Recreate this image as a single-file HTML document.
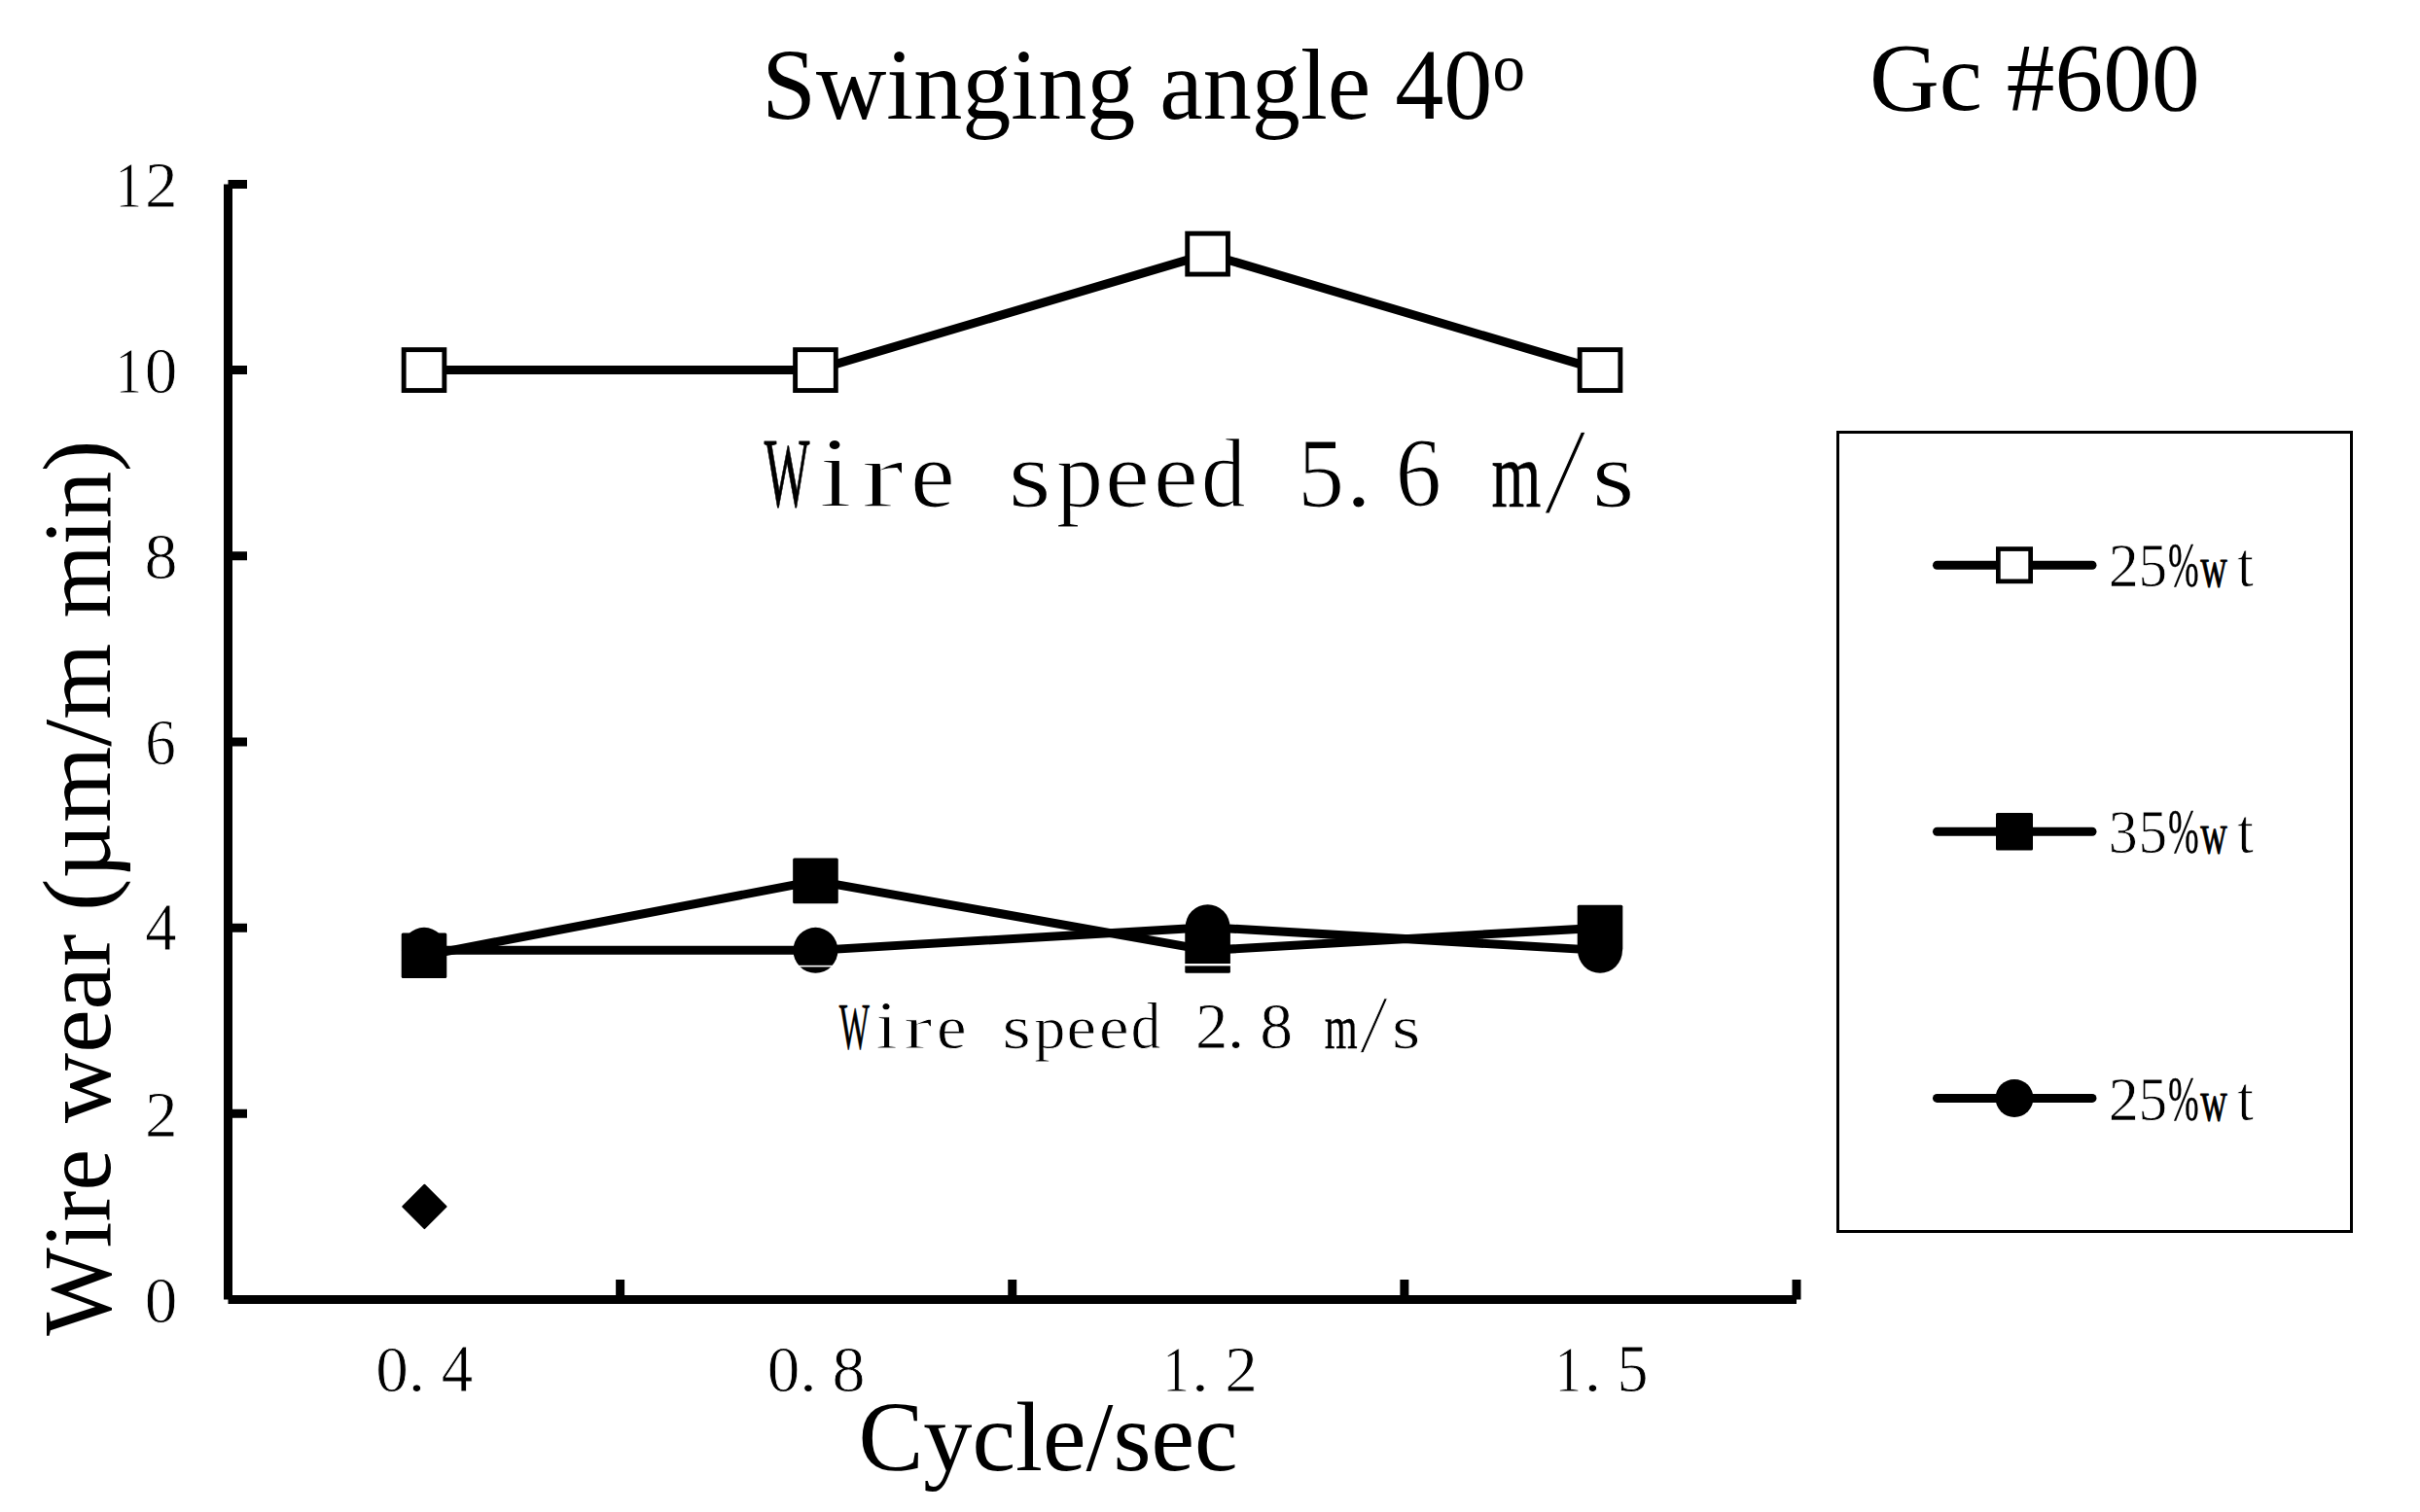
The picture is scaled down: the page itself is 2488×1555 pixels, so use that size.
<!DOCTYPE html>
<html lang="en">
<head>
<meta charset="utf-8">
<title>Wire wear vs. swinging cycle</title>
<style>
html,body{margin:0;padding:0;background:#fff;}
body{width:2488px;height:1555px;overflow:hidden;}
svg{display:block;}
text{font-family:"Liberation Serif","Times New Roman",serif;fill:#000;}
.er{stroke:#fff;vector-effect:non-scaling-stroke;}
.ns{stroke:#000;vector-effect:non-scaling-stroke;stroke-linejoin:round;}
.ax{stroke:#000;stroke-width:9;fill:none;stroke-linecap:butt;}
.ln{stroke:#000;stroke-width:9;fill:none;stroke-linejoin:round;}
</style>
</head>
<body>
<svg width="2488" height="1555" viewBox="0 0 2488 1555">
<rect x="0" y="0" width="2488" height="1555" fill="#fff"/>
<!-- titles -->
<text id="title" transform="translate(783.3 122) scale(.9725 1)" font-size="103">Swinging angle 40<tspan font-size="69" dy="-29">o</tspan></text>
<text id="gc" transform="translate(1922 112.5) scale(.9945 1)" font-size="100">Gc #600</text>
<text id="xl" transform="translate(882.4 1511.8) scale(.986 1)" font-size="101.8">Cycle/sec</text>
<g id="yl">
<text transform="translate(113.2 1373.7) rotate(-90) scale(0.9550 1)" x="-0.1" font-size="100.5" style="font-kerning:none">Wire</text>
<text transform="translate(113.2 1155) rotate(-90) scale(0.9960 1)" x="-0.1" font-size="100.5" style="font-kerning:none">wear</text>
<text transform="translate(113.2 932.7) rotate(-90) scale(0.9994 1)" x="-4.42" font-size="100.5" style="font-kerning:none">(µm/m</text>
<text transform="translate(113.2 633.5) rotate(-90) scale(0.9635 1)" x="-2.11" font-size="100.5" style="font-kerning:none">min)</text>
</g>
<!-- axes -->
<path class="ax" d="M234.5 189.42 V1336.5"/>
<path class="ax" d="M234.5 1336.5 H1847"/>
<path class="ax" d="M234.5 1145.32 h19.5M234.5 954.14 h19.5M234.5 762.96 h19.5M234.5 571.78 h19.5M234.5 380.6 h19.5M234.5 189.42 h19.5"/>
<path class="ax" d="M637.62 1336.5 v-20.5M1040.75 1336.5 v-20.5M1443.88 1336.5 v-20.5M1847 1336.5 v-20.5"/>
<!-- y tick labels -->
<g font-size="67" aria-label="0"><text transform="translate(165.5 1359.8) scale(1.003 1.015)" x="-16.75" class="er" stroke-width="0.8">0</text></g>
<g font-size="67" aria-label="2"><text transform="translate(165.5 1168.62) scale(1.003 1.019)" x="-16.37" class="er" stroke-width="0.8">2</text></g>
<g font-size="67" aria-label="4"><text transform="translate(165.5 977.44) scale(0.968 1.026)" x="-16.88" class="er" stroke-width="0.8">4</text></g>
<g font-size="67" aria-label="6"><text transform="translate(165.5 786.26) scale(0.943 1.019)" x="-17.19" class="er" stroke-width="0.8">6</text></g>
<g font-size="67" aria-label="8"><text transform="translate(165.5 595.08) scale(1.015 1.015)" x="-16.75" class="er" stroke-width="0.8">8</text></g>
<g font-size="67" aria-label="10"><text transform="translate(133 403.9) scale(0.824 1.022)" x="-17.68" class="er" stroke-width="0.8">1</text><text transform="translate(165.5 403.9) scale(1.003 1.015)" x="-16.75" class="er" stroke-width="0.8">0</text></g>
<g font-size="67" aria-label="12"><text transform="translate(133 212.72) scale(0.824 1.022)" x="-17.68" class="er" stroke-width="0.8">1</text><text transform="translate(165.5 212.72) scale(1.003 1.019)" x="-16.37" class="er" stroke-width="0.8">2</text></g>
<!-- x tick labels -->
<g font-size="67" aria-label="0.4"><text transform="translate(403.1 1431) scale(1.003 1.015)" x="-16.75" class="er" stroke-width="0.8">0</text><text transform="translate(428.43 1431) scale(1.066 0.962)" x="-8.38" class="er" stroke-width="0.8">.</text><text transform="translate(470.1 1431) scale(0.968 1.026)" x="-16.88" class="er" stroke-width="0.8">4</text></g>
<g font-size="67" aria-label="0.8"><text transform="translate(805.56 1431) scale(1.003 1.015)" x="-16.75" class="er" stroke-width="0.8">0</text><text transform="translate(830.89 1431) scale(1.066 0.962)" x="-8.38" class="er" stroke-width="0.8">.</text><text transform="translate(872.56 1431) scale(1.015 1.015)" x="-16.75" class="er" stroke-width="0.8">8</text></g>
<g font-size="67" aria-label="1.2"><text transform="translate(1209.7 1431) scale(0.824 1.022)" x="-17.68" class="er" stroke-width="0.8">1</text><text transform="translate(1234.03 1431) scale(1.066 0.962)" x="-8.38" class="er" stroke-width="0.8">.</text><text transform="translate(1275.7 1431) scale(1.003 1.019)" x="-16.37" class="er" stroke-width="0.8">2</text></g>
<g font-size="67" aria-label="1.5"><text transform="translate(1613.11 1431) scale(0.824 1.022)" x="-17.68" class="er" stroke-width="0.8">1</text><text transform="translate(1637.43 1431) scale(1.066 0.962)" x="-8.38" class="er" stroke-width="0.8">.</text><text transform="translate(1679.1 1431) scale(0.956 1.026)" x="-17.39" class="er" stroke-width="0.8">5</text></g>
<!-- series -->
<polyline class="ln" points="436,380.6 838.46,380.6 1241.6,261.11 1645,380.6"/>
<polyline class="ln" points="436,977.37 838.46,977.37 1241.6,953.66 1645,977.37"/>
<polyline class="ln" points="436,982.82 838.46,905.87 1241.6,977.37 1645,954.14"/>
<path d="M436.4 1218.71 l22.2 22.2 l-22.2 22.2 l-22.2 -22.2z" fill="#000" stroke="#000" stroke-width="2" stroke-linejoin="round"/>
<ellipse cx="436" cy="977.37" rx="23" ry="23.5" fill="#000"/>
<ellipse cx="838.46" cy="977.37" rx="23" ry="23.5" fill="#000"/>
<ellipse cx="1241.6" cy="953.66" rx="23" ry="23.5" fill="#000"/>
<ellipse cx="1645" cy="977.37" rx="23" ry="23.5" fill="#000"/>
<rect x="412.7" y="959.52" width="46.6" height="46.6" rx="1.5" fill="#000"/>
<rect x="815.16" y="882.57" width="46.6" height="46.6" rx="1.5" fill="#000"/>
<rect x="1218.3" y="954.07" width="46.6" height="46.6" rx="1.5" fill="#000"/>
<rect x="1621.7" y="930.84" width="46.6" height="46.6" rx="1.5" fill="#000"/>
<rect x="415.15" y="359.65" width="41.7" height="41.9" fill="#fff" stroke="#000" stroke-width="4.9" stroke-linejoin="miter"/>
<rect x="817.61" y="359.65" width="41.7" height="41.9" fill="#fff" stroke="#000" stroke-width="4.9" stroke-linejoin="miter"/>
<rect x="1220.75" y="240.16" width="41.7" height="41.9" fill="#fff" stroke="#000" stroke-width="4.9" stroke-linejoin="miter"/>
<rect x="1624.15" y="359.65" width="41.7" height="41.9" fill="#fff" stroke="#000" stroke-width="4.9" stroke-linejoin="miter"/>
<rect x="818" y="992.8" width="41" height="1.6" fill="#fff"/>
<rect x="1218" y="991" width="47" height="2.4" fill="#fff"/>
<!-- annotations -->
<g font-size="100" aria-label="Wire speed 5.6 m/s"><text transform="translate(809 521.2) scale(0.494 1.026)" x="-47.14" class="ns" stroke-width="0.7">W</text><text transform="translate(859 521.2) scale(1.220 1.035)" x="-13.99" class="er" stroke-width="2">i</text><text transform="translate(908 521.2) scale(1.315 0.964)" x="-17.21" class="er" stroke-width="2">r</text><text transform="translate(959 521.2) scale(1.032 0.964)" x="-22.41" class="er" stroke-width="1.2">e</text> <text transform="translate(1059 521.2) scale(1.125 0.964)" x="-19.7" class="er" stroke-width="1.2">s</text><text transform="translate(1109 521.2) scale(0.962 0.964)" x="-23.85" class="er" stroke-width="1.2">p</text><text transform="translate(1159 521.2) scale(1.032 0.964)" x="-22.41" class="er" stroke-width="1.2">e</text><text transform="translate(1209 521.2) scale(1.032 0.964)" x="-22.41" class="er" stroke-width="1.2">e</text><text transform="translate(1259 521.2) scale(0.914 1.009)" x="-26.2" class="er" stroke-width="1.2">d</text> <text transform="translate(1359 521.2) scale(0.956 1.026)" x="-25.95" class="er" stroke-width="1.2">5</text><text transform="translate(1396.8 521.2) scale(1.066 0.962)" x="-12.5" class="er" stroke-width="1.2">.</text><text transform="translate(1459 521.2) scale(0.943 1.019)" x="-25.66" class="er" stroke-width="1.2">6</text> <text transform="translate(1559 521.2) scale(0.654 0.964)" x="-39.16" class="ns" stroke-width="0.4">m</text><text transform="matrix(1.000 0 -0.214 1.257 1609 527.27)" x="-20.83" class="er" stroke-width="1.2">/</text><text transform="translate(1659 521.2) scale(1.125 0.964)" x="-19.7" class="er" stroke-width="1.2">s</text></g>
<g font-size="66.74" aria-label="Wire speed 2.8 m/s"><text transform="translate(878.38 1078) scale(0.494 1.026)" x="-31.46" class="ns" stroke-width="0.47">W</text><text transform="translate(911.75 1078) scale(1.220 1.035)" x="-9.34" class="er" stroke-width="1.33">i</text><text transform="translate(944.46 1078) scale(1.315 0.964)" x="-11.49" class="er" stroke-width="1.33">r</text><text transform="translate(978.5 1078) scale(1.032 0.964)" x="-14.96" class="er" stroke-width="0.8">e</text> <text transform="translate(1045.24 1078) scale(1.125 0.964)" x="-13.15" class="er" stroke-width="0.8">s</text><text transform="translate(1078.61 1078) scale(0.962 0.964)" x="-15.92" class="er" stroke-width="0.8">p</text><text transform="translate(1111.97 1078) scale(1.032 0.964)" x="-14.96" class="er" stroke-width="0.8">e</text><text transform="translate(1145.35 1078) scale(1.032 0.964)" x="-14.96" class="er" stroke-width="0.8">e</text><text transform="translate(1178.72 1078) scale(0.914 1.009)" x="-17.48" class="er" stroke-width="0.8">d</text> <text transform="translate(1245.45 1078) scale(1.003 1.019)" x="-16.31" class="er" stroke-width="0.8">2</text><text transform="translate(1270.68 1078) scale(1.066 0.962)" x="-8.34" class="er" stroke-width="0.8">.</text><text transform="translate(1312.19 1078) scale(1.015 1.015)" x="-16.68" class="er" stroke-width="0.8">8</text> <text transform="translate(1378.93 1078) scale(0.654 0.964)" x="-26.14" class="ns" stroke-width="0.27">m</text><text transform="matrix(1.000 0 -0.214 1.257 1412.3 1082.05)" x="-13.9" class="er" stroke-width="0.8">/</text><text transform="translate(1445.67 1078) scale(1.125 0.964)" x="-13.15" class="er" stroke-width="0.8">s</text></g>
<!-- legend -->
<rect x="1889.5" y="444.5" width="528" height="822" fill="#fff" stroke="#000" stroke-width="3"/>
<path d="M1991.5 581.2 H2151" stroke="#000" stroke-width="9" stroke-linecap="round" fill="none"/>
<path d="M1991.5 855.3 H2151" stroke="#000" stroke-width="9" stroke-linecap="round" fill="none"/>
<path d="M1991.5 1129.4 H2151" stroke="#000" stroke-width="9" stroke-linecap="round" fill="none"/>
<rect x="2054.35" y="564.55" width="33.3" height="33.3" fill="#fff" stroke="#000" stroke-width="4.7"/>
<rect x="2052" y="836" width="38" height="38.6" rx="1.5" fill="#000"/>
<circle cx="2071" cy="1129.4" r="19.5" fill="#000"/>
<g font-size="62" aria-label="25%wt"><text transform="translate(2182.9 603) scale(1.003 1.019)" x="-15.15" class="er" stroke-width="0.74">2</text><text transform="translate(2213.9 603) scale(0.956 1.026)" x="-16.09" class="er" stroke-width="0.74">5</text><text transform="translate(2244.9 603) scale(0.615 1.053)" x="-25.82" class="ns" stroke-width="0.25">%</text><text transform="translate(2275.9 603) scale(0.614 0.970)" x="-22.28" class="ns" stroke-width="0.74">w</text><text transform="translate(2308.76 603) scale(0.961 1.066)" x="-8.73" class="er" stroke-width="0.74">t</text></g>
<g font-size="62" aria-label="35%wt"><text transform="translate(2182.9 877) scale(0.968 1.019)" x="-15.77" class="er" stroke-width="0.74">3</text><text transform="translate(2213.9 877) scale(0.956 1.026)" x="-16.09" class="er" stroke-width="0.74">5</text><text transform="translate(2244.9 877) scale(0.615 1.053)" x="-25.82" class="ns" stroke-width="0.25">%</text><text transform="translate(2275.9 877) scale(0.614 0.970)" x="-22.28" class="ns" stroke-width="0.74">w</text><text transform="translate(2308.76 877) scale(0.961 1.066)" x="-8.73" class="er" stroke-width="0.74">t</text></g>
<g font-size="62" aria-label="25%wt"><text transform="translate(2182.9 1152) scale(1.003 1.019)" x="-15.15" class="er" stroke-width="0.74">2</text><text transform="translate(2213.9 1152) scale(0.956 1.026)" x="-16.09" class="er" stroke-width="0.74">5</text><text transform="translate(2244.9 1152) scale(0.615 1.053)" x="-25.82" class="ns" stroke-width="0.25">%</text><text transform="translate(2275.9 1152) scale(0.614 0.970)" x="-22.28" class="ns" stroke-width="0.74">w</text><text transform="translate(2308.76 1152) scale(0.961 1.066)" x="-8.73" class="er" stroke-width="0.74">t</text></g>
</svg>
</body>
</html>
